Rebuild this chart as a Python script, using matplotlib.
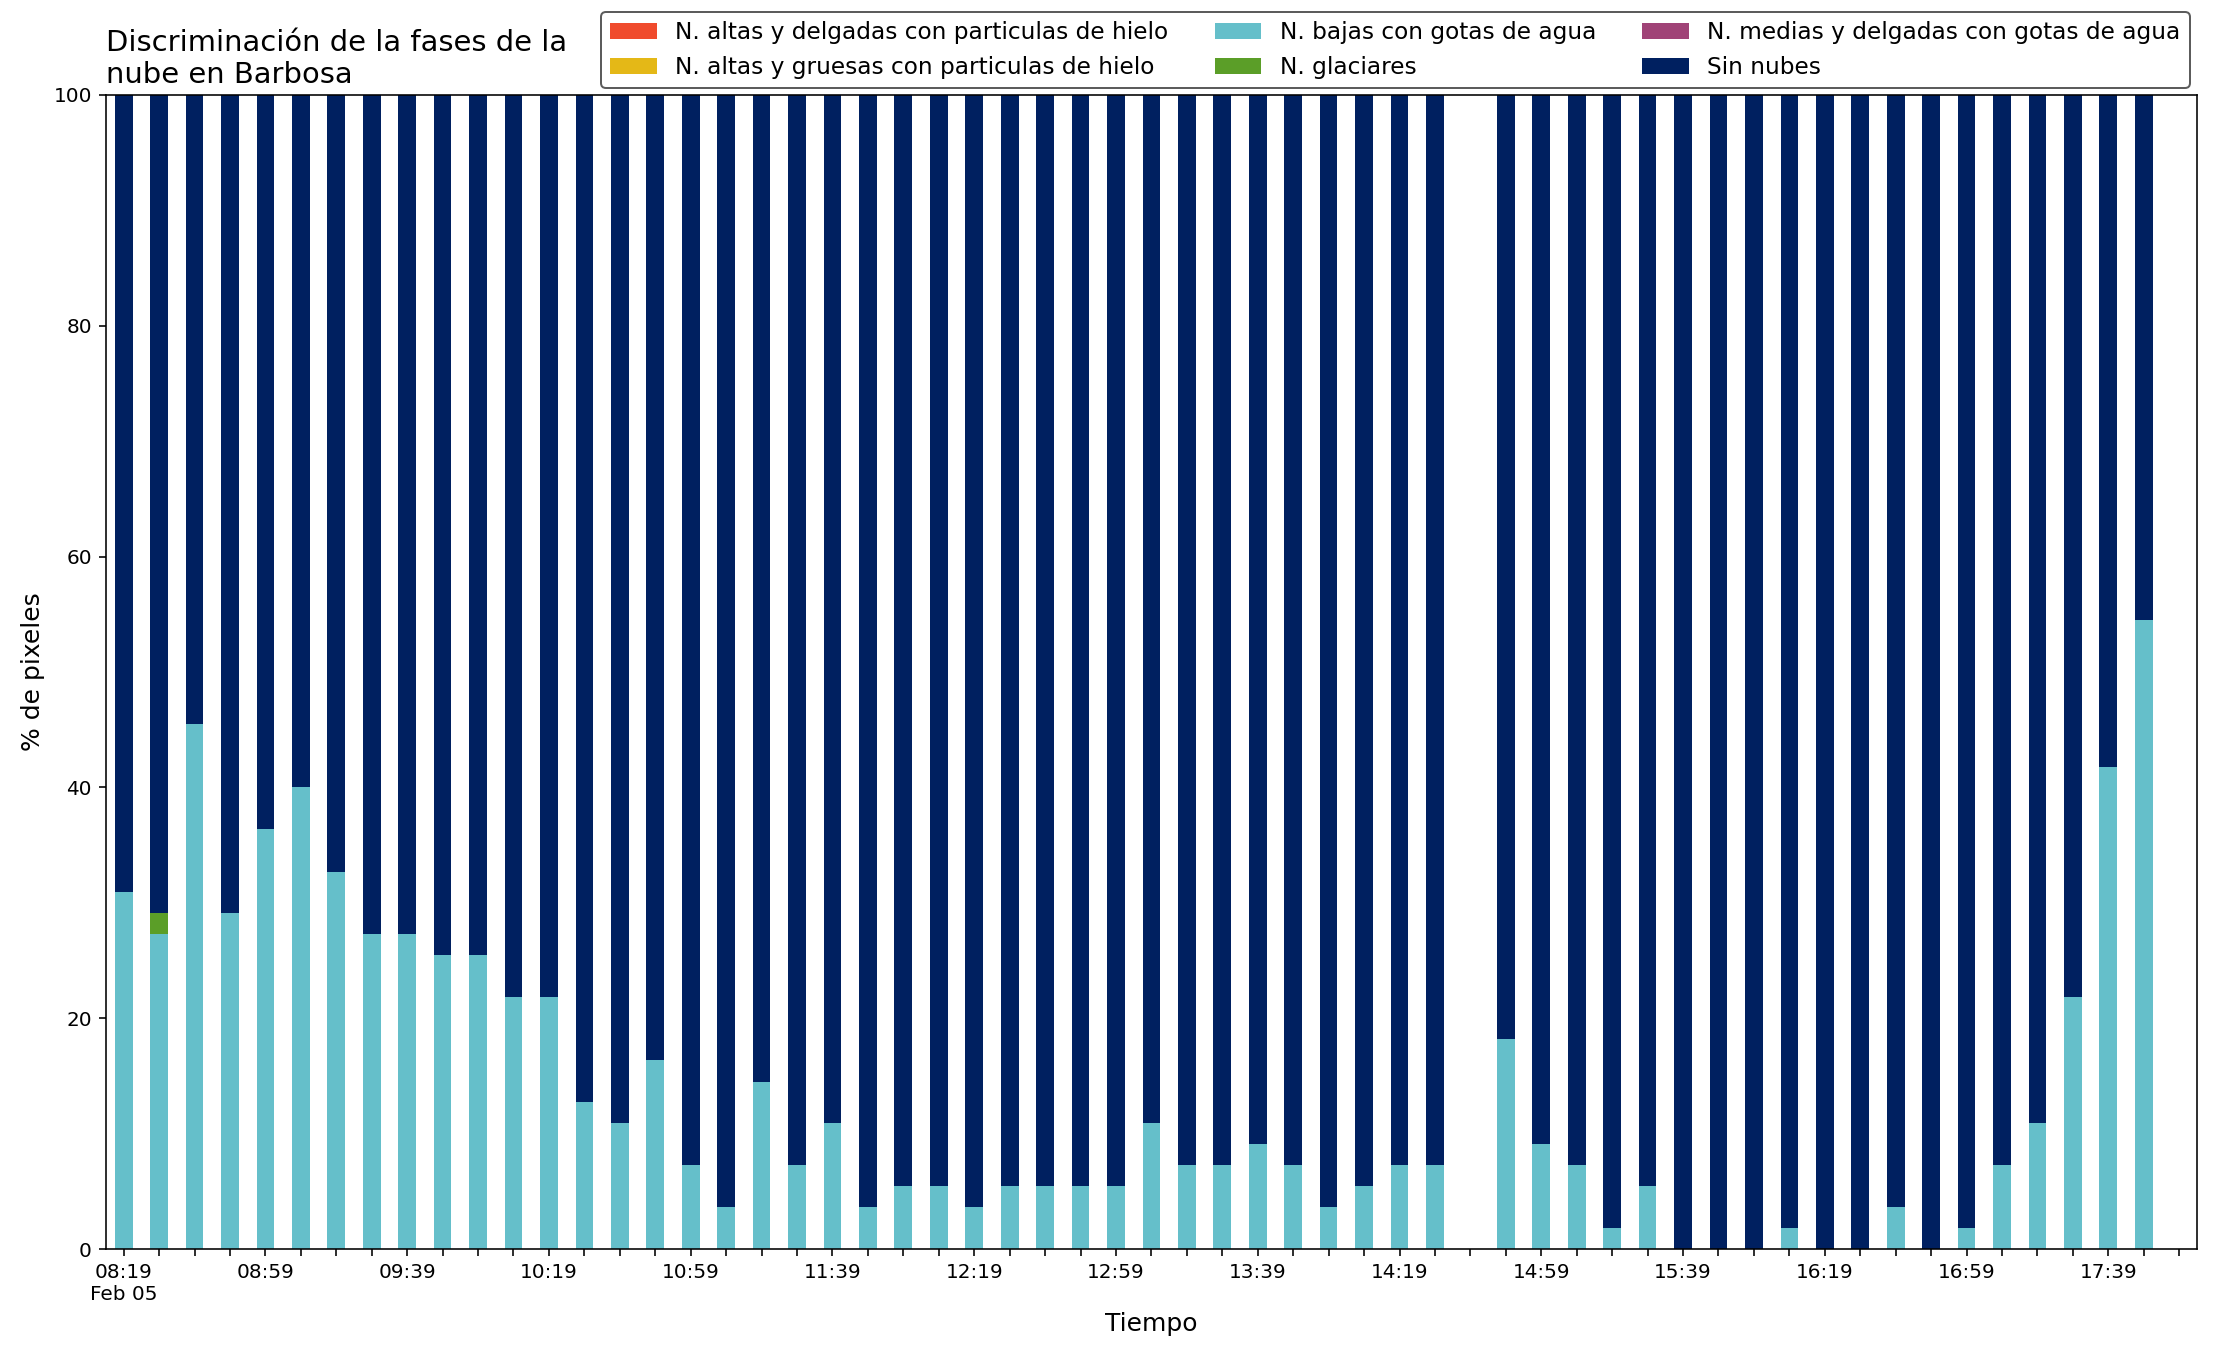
import matplotlib.pyplot as plt
import numpy as np

# Horas de cada imagen (cada 10 minutos)
horas = ['08:19', '08:29', '08:39', '08:49', '08:59', '09:09', '09:19', '09:29',
         '09:39', '09:49', '09:59', '10:09', '10:19', '10:29', '10:39', '10:49',
         '10:59', '11:09', '11:19', '11:29', '11:39', '11:49', '11:59', '12:09',
         '12:19', '12:29', '12:39', '12:49', '12:59', '13:09', '13:19', '13:29',
         '13:39', '13:49', '13:59', '14:09', '14:19', '14:29', '14:39', '14:49',
         '14:59', '15:09', '15:19', '15:29', '15:39', '15:49', '15:59', '16:09',
         '16:19', '16:29', '16:39', '16:49', '16:59', '17:09', '17:19', '17:29',
         '17:39', '17:49', '17:59']

nan = np.nan
altas_delgadas = [0] * 38 + [nan] + [0] * 19 + [nan]
altas_gruesas = [0] * 38 + [nan] + [0] * 19 + [nan]
bajas_agua = [30.9, 27.3, 45.5, 29.1, 36.4, 40.0, 32.7, 27.3, 27.3, 25.5,
              25.5, 21.8, 21.8, 12.7, 10.9, 16.4, 7.3, 3.6, 14.5, 7.3,
              10.9, 3.6, 5.5, 5.5, 3.6, 5.5, 5.5, 5.5, 5.5, 10.9,
              7.3, 7.3, 9.1, 7.3, 3.6, 5.5, 7.3, 7.3, nan, 18.2,
              9.1, 7.3, 1.8, 5.5, 0.0, 0.0, 0.0, 1.8, 0.0, 0.0,
              3.6, 0.0, 1.8, 7.3, 10.9, 21.8, 41.8, 54.5, nan]
glaciares = [0, 1.8] + [0] * 36 + [nan] + [0] * 19 + [nan]
medias_delgadas = [0] * 38 + [nan] + [0] * 19 + [nan]
sin_nubes = [69.1, 70.9, 54.5, 70.9, 63.6, 60.0, 67.3, 72.7, 72.7, 74.5,
             74.5, 78.2, 78.2, 87.3, 89.1, 83.6, 92.7, 96.4, 85.5, 92.7,
             89.1, 96.4, 94.5, 94.5, 96.4, 94.5, 94.5, 94.5, 94.5, 89.1,
             92.7, 92.7, 90.9, 92.7, 96.4, 94.5, 92.7, 92.7, nan, 81.8,
             90.9, 92.7, 98.2, 94.5, 100.0, 100.0, 100.0, 98.2, 100.0, 100.0,
             96.4, 100.0, 98.2, 92.7, 89.1, 78.2, 58.2, 45.5, nan]

series = [
    ('N. altas y delgadas con particulas de hielo', altas_delgadas, '#F04B2D'),
    ('N. altas y gruesas con particulas de hielo', altas_gruesas, '#E4B817'),
    ('N. bajas con gotas de agua', bajas_agua, '#65BFCA'),
    ('N. glaciares', glaciares, '#5B9E28'),
    ('N. medias y delgadas con gotas de agua', medias_delgadas, '#A04377'),
    ('Sin nubes', sin_nubes, '#002060'),
]

fig = plt.figure(figsize=(2216 / 144, 1355 / 144), dpi=144)
ax = fig.add_axes([0.0478, 0.0782, 0.9436, 0.8517])

x = np.arange(len(horas))
base = np.zeros(len(horas))
for nombre, valores, color in series:
    v = np.array(valores, dtype=float)
    ax.bar(x, np.nan_to_num(v), width=0.5, bottom=base, color=color,
           label=nombre, linewidth=0)
    base = base + np.nan_to_num(v)

etiquetas = []
for i, h in enumerate(horas):
    if i == 0:
        etiquetas.append(h + '\nFeb 05')
    elif i % 4 == 0:
        etiquetas.append(h)
    else:
        etiquetas.append('')
ax.set_xticks(x)
ax.set_xticklabels(etiquetas, rotation=0, ha='center', fontsize=10)
ax.tick_params(axis='y', labelsize=10)
ax.set_xlim(-0.5, len(horas) - 0.5)
ax.set_ylim(0, 100)
ax.set_yticks([0, 20, 40, 60, 80, 100])

ax.set_xlabel('Tiempo', fontsize=12.5)
ax.set_ylabel('% de pixeles', fontsize=12.5)
ax.set_title('Discriminación de la fases de la\nnube en Barbosa', loc='left',
             fontsize=14.5)

leg = ax.legend(loc='lower right', bbox_to_anchor=(1.0, 1.0), ncol=3,
                fontsize=11.6, frameon=True, edgecolor='#333333',
                borderaxespad=0.3)
leg.get_frame().set_linewidth(1.0)

fig.savefig('out.png', dpi=144)
